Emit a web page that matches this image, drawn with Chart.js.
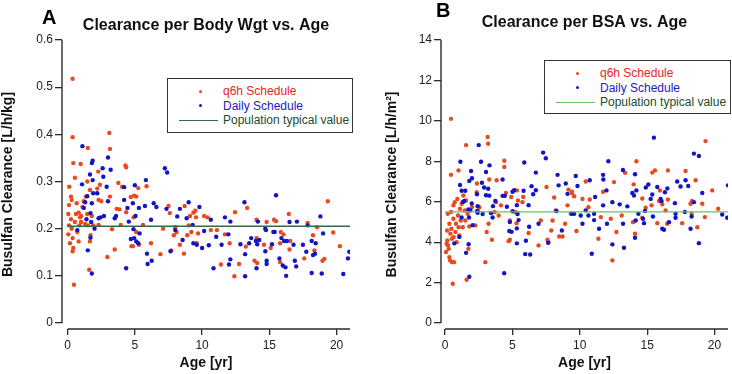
<!DOCTYPE html>
<html>
<head>
<meta charset="utf-8">
<script src="https://cdn.jsdelivr.net/npm/chart.js@4.4.1/dist/chart.umd.min.js"></script>
<style>
  body { margin: 0; width: 732px; height: 374px; position: relative; overflow: hidden; background: #fff;
         font-family: "Liberation Sans", Arial, sans-serif; }
  canvas { position: absolute; top: 0; }
  .letter { position: absolute; font-weight: bold; font-size: 20px; line-height: 20px; color: #000; }
  .legend { position: absolute; border: 1.5px solid #333; background: #fff; font-size: 12px; box-sizing: border-box; }
  .legend .row { position: absolute; left: 0; right: 0; height: 14px; line-height: 14px; white-space: nowrap; }
  .legend .txt { position: absolute; left: 55px; top: 0; }
  .legend .dot { position: absolute; left: 31px; top: 5.5px; width: 3px; height: 3px; border-radius: 50%; }
  .legend .ln { position: absolute; left: 11px; width: 39px; top: 7px; height: 0; }
</style>
</head>
<body>
<canvas id="chartA" width="366" height="374" style="left:0"></canvas>
<canvas id="chartB" width="366" height="374" style="left:366px"></canvas>
<div class="letter" style="left:42px; top:7px">A</div>
<div class="letter" style="left:436px; top:0px">B</div>
<div class="legend" id="legendA" style="left:167px; top:78px; width:186px; height:55px"></div>
<div class="legend" id="legendB" style="left:544px; top:60px; width:187px; height:54px"></div>
<script>
const xTicks = [0, 5, 10, 15, 20];
const aYTicks = [0, 0.1, 0.2, 0.3, 0.4, 0.5, 0.6];
const bYTicks = [0, 2, 4, 6, 8, 10, 12, 14];
const aTypical = 0.205;
const bTypical = 5.5;

// Panel A: clearance per body weight [L/h/kg] vs age [yr]
const aQ6h = [
  [0.37,0.518],[0.37,0.394],[0.42,0.339],[0.54,0.308],[0.97,0.337],[1.46,0.300],[1.50,0.371],
  [2.28,0.321],[0.12,0.289],[3.10,0.403],[3.15,0.369],[4.30,0.334],[4.35,0.330],[3.77,0.297],
  [2.40,0.293],[4.05,0.289],[5.25,0.286],[5.87,0.290],
  [0.10,0.250],[0.05,0.231],[0.10,0.207],[0.05,0.188],[0.17,0.169],[0.25,0.268],[0.30,0.261],
  [0.25,0.220],[0.30,0.200],[0.37,0.180],[0.42,0.159],[0.37,0.152],[0.47,0.081],[0.54,0.214],
  [0.62,0.231],[0.67,0.254],[0.72,0.193],[0.82,0.234],[0.92,0.224],[1.00,0.227],[0.87,0.207],
  [1.00,0.214],[0.82,0.173],[1.10,0.246],[1.20,0.258],[1.36,0.268],[1.30,0.210],[1.46,0.231],
  [1.50,0.207],[1.60,0.113],[1.66,0.173],[1.70,0.186],[1.80,0.227],[1.90,0.207],[1.66,0.282],
  [2.20,0.285],[2.30,0.261],[2.50,0.258],[2.30,0.208],[2.95,0.140],[3.15,0.268],[3.30,0.199],
  [3.50,0.156],[3.65,0.242],[3.85,0.241],[3.95,0.208],[4.35,0.235],[4.70,0.267],[4.75,0.163],
  [4.85,0.163],[4.90,0.224],[4.95,0.270],[5.10,0.193],[5.10,0.268],[5.30,0.166],[5.60,0.208],
  [6.20,0.169],[6.90,0.146],[7.10,0.200],[7.50,0.248],[7.60,0.233],[7.70,0.154],[7.90,0.186],
  [8.00,0.203],[8.10,0.193],[8.35,0.166],[8.65,0.147],[8.70,0.248],[8.90,0.186],[9.00,0.207],
  [9.10,0.227],[9.20,0.193],[9.35,0.234],[9.50,0.238],[9.55,0.224],[9.60,0.169],[9.70,0.190],
  [10.15,0.227],[10.40,0.224],[10.65,0.197],[11.10,0.197],[11.40,0.124],[11.70,0.188],
  [12.05,0.169],[12.45,0.235],[12.40,0.099],[12.75,0.125],[13.25,0.162],[13.35,0.244],
  [13.90,0.132],[14.05,0.219],[14.05,0.180],[14.10,0.127],[14.60,0.166],[14.80,0.214],
  [15.10,0.159],[15.35,0.219],[15.50,0.216],[15.80,0.169],[15.85,0.193],[15.80,0.129],
  [16.05,0.188],[16.45,0.231],[16.50,0.156],[16.55,0.174],[17.60,0.137],[17.85,0.212],
  [18.25,0.186],[18.35,0.154],[18.55,0.203],[18.95,0.132],[19.10,0.136],[19.35,0.258],
  [19.75,0.192],[20.25,0.163]
];
const aDaily = [
  [1.10,0.375],[1.86,0.344],[1.80,0.339],[1.66,0.315],[1.07,0.294],[1.86,0.303],[2.60,0.328],
  [2.65,0.310],[2.90,0.289],[3.00,0.351],[3.20,0.325],[4.20,0.288],[5.00,0.292],[5.82,0.303],
  [7.23,0.328],[7.40,0.319],
  [0.72,0.197],[1.20,0.244],[1.30,0.256],[1.46,0.269],[1.40,0.220],[1.50,0.154],[1.70,0.233],
  [1.75,0.214],[1.70,0.181],[1.80,0.254],[1.80,0.105],[1.90,0.275],[2.00,0.200],[2.20,0.275],
  [2.30,0.222],[2.45,0.224],[2.70,0.227],[3.00,0.258],[3.50,0.222],[3.60,0.227],[4.20,0.261],
  [4.35,0.116],[4.45,0.244],[4.55,0.215],[4.70,0.178],[4.85,0.254],[4.90,0.199],[4.95,0.180],
  [5.05,0.227],[5.10,0.173],[5.25,0.169],[5.30,0.244],[5.35,0.190],[5.75,0.248],[5.90,0.147],
  [5.95,0.125],[6.20,0.219],[6.25,0.132],[6.40,0.254],[6.60,0.246],[7.35,0.242],[7.65,0.152],
  [8.00,0.197],[8.15,0.226],[8.35,0.242],[8.55,0.176],[8.85,0.222],[9.00,0.256],[9.30,0.208],
  [9.35,0.169],[9.60,0.166],[9.80,0.246],[10.00,0.159],[10.15,0.195],[10.50,0.165],
  [10.65,0.219],[10.85,0.116],[11.05,0.183],[11.45,0.166],[11.70,0.224],[11.95,0.188],
  [12.10,0.215],[12.00,0.124],[12.10,0.135],[12.85,0.167],[13.15,0.256],[13.20,0.099],
  [13.20,0.146],[13.50,0.169],[13.65,0.180],[14.00,0.174],[14.05,0.116],[14.10,0.167],
  [14.25,0.176],[14.15,0.215],[14.70,0.200],[14.75,0.197],[14.70,0.152],[14.80,0.132],
  [14.80,0.125],[15.20,0.167],[15.30,0.193],[15.40,0.193],[15.50,0.271],[15.75,0.137],
  [15.90,0.180],[16.00,0.122],[16.10,0.174],[16.20,0.118],[16.25,0.100],[16.30,0.174],
  [16.50,0.214],[16.80,0.166],[16.90,0.132],[17.00,0.120],[17.05,0.215],[17.50,0.166],
  [17.75,0.151],[17.85,0.207],[18.15,0.174],[18.15,0.106],[18.25,0.144],[18.40,0.147],
  [18.45,0.169],[18.80,0.226],[18.90,0.105],[19.00,0.190],[20.50,0.104],[20.85,0.137],
  [20.95,0.151]
];

// Panel B: clearance per BSA [L/h/m2] vs age [yr]
const bQ6h = [
  [0.44,10.10],[0.44,7.33],[1.00,7.55],[1.56,8.80],[2.37,6.90],[3.16,9.20],[3.20,8.87],
  [3.28,7.10],[3.83,7.06],[4.40,8.03],[4.40,7.72],[5.33,6.56],[7.53,6.73],[9.16,6.60],
  [10.44,7.00],[12.54,6.97],[13.36,7.43],[14.00,6.86],[14.20,8.00],[15.38,7.44],[15.58,7.55],
  [15.95,6.56],[16.54,7.55],[17.85,7.52],[18.60,7.06],[19.33,9.00],[19.83,6.56],
  [0.07,3.51],[0.12,3.92],[0.17,4.09],[0.15,4.58],[0.20,5.40],[0.22,3.84],[0.27,3.67],
  [0.32,4.91],[0.32,3.26],[0.37,3.10],[0.40,4.42],[0.44,5.49],[0.47,4.66],[0.52,4.17],
  [0.52,3.01],[0.57,1.94],[0.62,5.82],[0.62,5.16],[0.64,4.25],[0.67,3.01],[0.72,5.98],
  [0.77,4.50],[0.81,4.91],[0.86,4.00],[0.91,6.14],[0.96,5.32],[1.01,4.74],[1.06,4.33],
  [1.11,5.65],[1.16,5.07],[1.23,5.90],[1.31,4.74],[1.36,6.31],[1.46,5.57],[1.50,5.07],
  [1.56,6.06],[1.60,2.14],[1.68,5.40],[1.73,3.67],[1.80,4.78],[2.00,5.73],[2.25,4.83],
  [2.35,6.47],[2.44,5.57],[2.54,5.73],[2.99,3.01],[3.09,4.50],[3.23,4.91],[3.40,5.44],
  [3.48,4.12],[3.68,5.49],[3.78,5.98],[3.98,5.32],[4.15,5.82],[4.52,6.43],[4.72,4.05],
  [4.81,4.12],[4.81,5.07],[4.91,6.23],[5.21,5.49],[5.31,4.94],[5.41,6.06],[5.75,5.98],
  [5.80,6.23],[6.20,4.45],[6.94,3.84],[7.11,5.07],[7.60,4.12],[7.68,4.00],[7.98,5.07],
  [8.22,5.57],[7.88,4.58],[8.47,4.28],[8.72,4.28],[8.91,4.91],[9.09,5.82],[9.33,5.40],
  [9.41,6.43],[9.75,4.55],[10.20,6.14],[10.64,5.73],[11.38,4.17],[11.56,5.24],[12.30,5.16],
  [12.42,3.10],[12.72,4.50],[13.11,5.32],[13.95,4.99],[14.10,4.42],[14.64,5.21],[14.89,5.70],
  [15.33,5.82],[15.75,4.94],[15.88,6.03],[16.12,5.87],[16.37,5.57],[16.49,4.91],[17.60,4.94],
  [18.22,5.90],[18.30,5.40],[18.72,4.74],[19.09,5.90],[19.28,5.24],[20.27,5.65],
  [9.43,6.49],[9.58,6.27],[8.10,6.21],[10.74,6.11],[11.73,6.49],[14.64,6.16],[16.54,6.11],
  [18.32,6.04]
];
const bDaily = [
  [1.14,7.98],[1.11,6.83],[1.80,7.03],[1.93,7.52],[2.00,7.16],[2.50,8.80],[2.67,7.98],
  [2.74,6.94],[3.04,7.47],[3.30,7.80],[3.20,6.64],[4.27,7.10],[5.88,7.94],[6.74,7.44],
  [7.28,8.43],[7.48,8.15],[8.35,7.33],[8.43,6.81],[8.96,6.90],[9.70,7.27],[9.83,6.78],
  [10.74,7.06],[11.73,7.33],[11.75,7.10],[12.12,8.00],[13.20,7.57],[14.10,7.36],[14.20,6.56],
  [14.90,6.70],[15.50,9.17],[15.75,6.73],[16.50,6.66],[17.23,7.00],[17.85,7.06],[18.05,6.78],
  [18.47,8.38],[18.84,8.26],[21.00,6.81],
  [1.23,6.54],[1.50,6.54],[2.90,6.70],[2.37,6.37],[3.04,6.32],[3.28,6.30],[4.27,6.29],
  [4.44,6.29],[5.01,6.49],[5.13,6.57],[5.83,6.54],[6.42,6.77],[6.74,6.57],[6.54,6.37],
  [1.33,5.99],[1.43,6.04],[1.98,5.91],[2.42,5.78],[3.73,6.04],[3.56,5.78],[4.59,5.75],
  [5.33,5.83],[6.20,5.83],[1.73,5.62],[1.87,5.58],[2.37,5.53],[1.23,5.22],[1.78,5.22],
  [2.42,5.45],[3.41,5.45],[3.53,5.22],[2.79,5.39],[2.05,4.84],[5.01,5.53],[5.38,5.39],
  [4.81,5.00],[5.46,5.09],[5.33,4.68],[4.94,4.51],[4.77,4.55],[6.24,4.76],[6.00,4.07],
  [5.33,3.94],[5.95,3.41],[6.32,3.39],[7.65,3.97],[1.06,4.26],[0.69,3.94],[1.75,3.90],
  [1.56,3.47],[1.80,2.29],[4.39,2.46],[6.94,4.91],
  [8.27,5.54],[8.67,4.58],[9.09,6.39],[9.41,5.40],[9.58,5.40],[10.07,5.32],[10.20,4.91],
  [10.44,5.57],[10.64,5.32],[10.89,3.43],[11.06,5.40],[11.14,6.23],[11.43,4.66],[11.73,5.82],
  [11.98,6.56],[12.02,4.91],[12.42,5.98],[12.42,3.89],[12.96,5.87],[13.21,4.91],[13.28,3.72],
  [13.53,5.77],[13.90,6.43],[14.02,6.31],[14.10,4.22],[14.15,5.07],[14.35,5.40],[14.69,5.16],
  [14.77,4.94],[14.84,5.54],[15.09,6.85],[15.26,6.14],[15.38,6.36],[15.43,5.27],[16.00,6.14],
  [16.07,6.03],[16.12,4.66],[16.25,4.61],[16.32,6.47],[16.62,4.99],[17.06,5.93],[17.11,5.40],
  [17.11,5.21],[17.48,6.75],[17.80,5.49],[18.22,4.66],[18.30,5.27],[18.47,5.98],[18.84,3.95],
  [19.09,6.43],[20.57,5.37],[20.94,5.21],[11.06,5.09]
];

const RED = '#e84a1e';
const BLUE = '#1414c4';
const AXIS = '#2b2b2b';
const legendText = ['#e4261c', '#2020c8', '#1d4a2c'];

Chart.defaults.font.family = '"Liberation Sans", Arial, sans-serif';

// detached axis lines, drawn from the scales
const axisLines = {
  id: 'axisLines',
  afterDraw(chart) {
    const { ctx, chartArea, scales: { x, y } } = chart;
    ctx.save();
    ctx.strokeStyle = AXIS;
    ctx.lineWidth = 1.4;
    ctx.beginPath();
    ctx.moveTo(chartArea.left, y.getPixelForValue(y.max));
    ctx.lineTo(chartArea.left, y.getPixelForValue(0));
    ctx.moveTo(x.getPixelForValue(0), chartArea.bottom);
    ctx.lineTo(x.getPixelForValue(x.max), chartArea.bottom);
    ctx.stroke();
    ctx.restore();
  }
};

function makePanel(id, p) {
  const toXY = pts => pts.map(([x, y]) => ({ x, y }));
  return new Chart(document.getElementById(id), {
    data: {
      datasets: [
        { type: 'scatter', label: 'q6h Schedule', data: toXY(p.q6h), backgroundColor: RED,
          pointRadius: 2.2, pointBorderWidth: 0, order: 2 },
        { type: 'scatter', label: 'Daily Schedule', data: toXY(p.daily), backgroundColor: BLUE,
          pointRadius: 2.2, pointBorderWidth: 0, order: 1 },
        { type: 'line', label: 'Population typical value',
          data: [{ x: 0, y: p.typical }, { x: 21, y: p.typical }],
          borderColor: p.lineColor, borderWidth: 1.4, pointRadius: 0, order: 0 }
      ]
    },
    options: {
      animation: false,
      responsive: false,
      devicePixelRatio: 1,
      layout: { padding: { left: 0, right: p.padRight, top: 0, bottom: 0 } },
      plugins: {
        legend: { display: false },
        tooltip: { enabled: false },
        title: {
          display: true, text: p.title, fullSize: false, color: '#111',
          font: { size: 16, weight: 'bold' },
          padding: { top: p.titleTop, bottom: p.titleBottom }
        }
      },
      scales: {
        x: {
          type: 'linear', min: p.xMin, max: 21,
          afterFit: s => { s.height = 45; },
          afterBuildTicks: s => { s.ticks = xTicks.map(v => ({ value: v })); },
          grid: { drawOnChartArea: false, drawTicks: true, tickLength: 6, color: AXIS, lineWidth: 1.3 },
          border: { display: false },
          ticks: { color: '#222', font: { size: 12 }, padding: 3, maxRotation: 0, callback: v => String(v) },
          title: { display: true, text: 'Age [yr]', color: '#111', font: { size: 14, weight: 'bold' },
                   padding: { top: 0, bottom: 2 } }
        },
        y: {
          type: 'linear', min: p.yMin, max: p.yTicks[p.yTicks.length - 1],
          afterFit: s => { s.width = p.yWidth; },
          afterBuildTicks: s => { s.ticks = p.yTicks.map(v => ({ value: v })); },
          grid: { drawOnChartArea: false, drawTicks: true, tickLength: 7, color: AXIS, lineWidth: 1.3 },
          border: { display: false },
          ticks: { color: '#222', font: { size: 12 }, padding: 2, callback: v => String(v) },
          title: { display: true, text: p.yTitle, color: '#111', font: { size: 14, weight: 'bold' },
                   padding: { top: p.yTitlePad, bottom: 0 } }
        }
      }
    },
    plugins: [axisLines]
  });
}

function buildLegend(chart, el) {
  chart.data.datasets.forEach((ds, i) => {
    const row = document.createElement('div');
    row.className = 'row';
    row.style.top = (5 + i * 14.5) + 'px';
    const mark = document.createElement('span');
    if (ds.type === 'line') {
      mark.className = 'ln';
      mark.style.borderTop = '1.3px solid ' + ds.borderColor;
    } else {
      mark.className = 'dot';
      mark.style.background = ds.backgroundColor;
    }
    const txt = document.createElement('span');
    txt.className = 'txt';
    txt.style.color = legendText[i];
    txt.textContent = ds.label;
    row.appendChild(mark);
    row.appendChild(txt);
    el.appendChild(row);
  });
}

const chartA = makePanel('chartA', {
  q6h: aQ6h, daily: aDaily, typical: aTypical, lineColor: '#2f6b46',
  title: 'Clearance per Body Wgt vs. Age', titleTop: 16, titleBottom: 4.8,
  yTitle: 'Busulfan Clearance [L/h/kg]', yTitlePad: 0, yWidth: 62,
  yTicks: aYTicks, yMin: -0.0127, xMin: -0.42, padRight: 16
});
const chartB = makePanel('chartB', {
  q6h: bQ6h, daily: bDaily, typical: bTypical, lineColor: '#6cbf6a',
  title: 'Clearance per BSA vs. Age', titleTop: 13, titleBottom: 7.8,
  yTitle: 'Busulfan Clearance [L/h/m\u00b2]', yTitlePad: 18, yWidth: 75,
  yTicks: bYTicks, yMin: -0.296, xMin: -0.3, padRight: 3
});
buildLegend(chartA, document.getElementById('legendA'));
buildLegend(chartB, document.getElementById('legendB'));
</script>
</body>
</html>
